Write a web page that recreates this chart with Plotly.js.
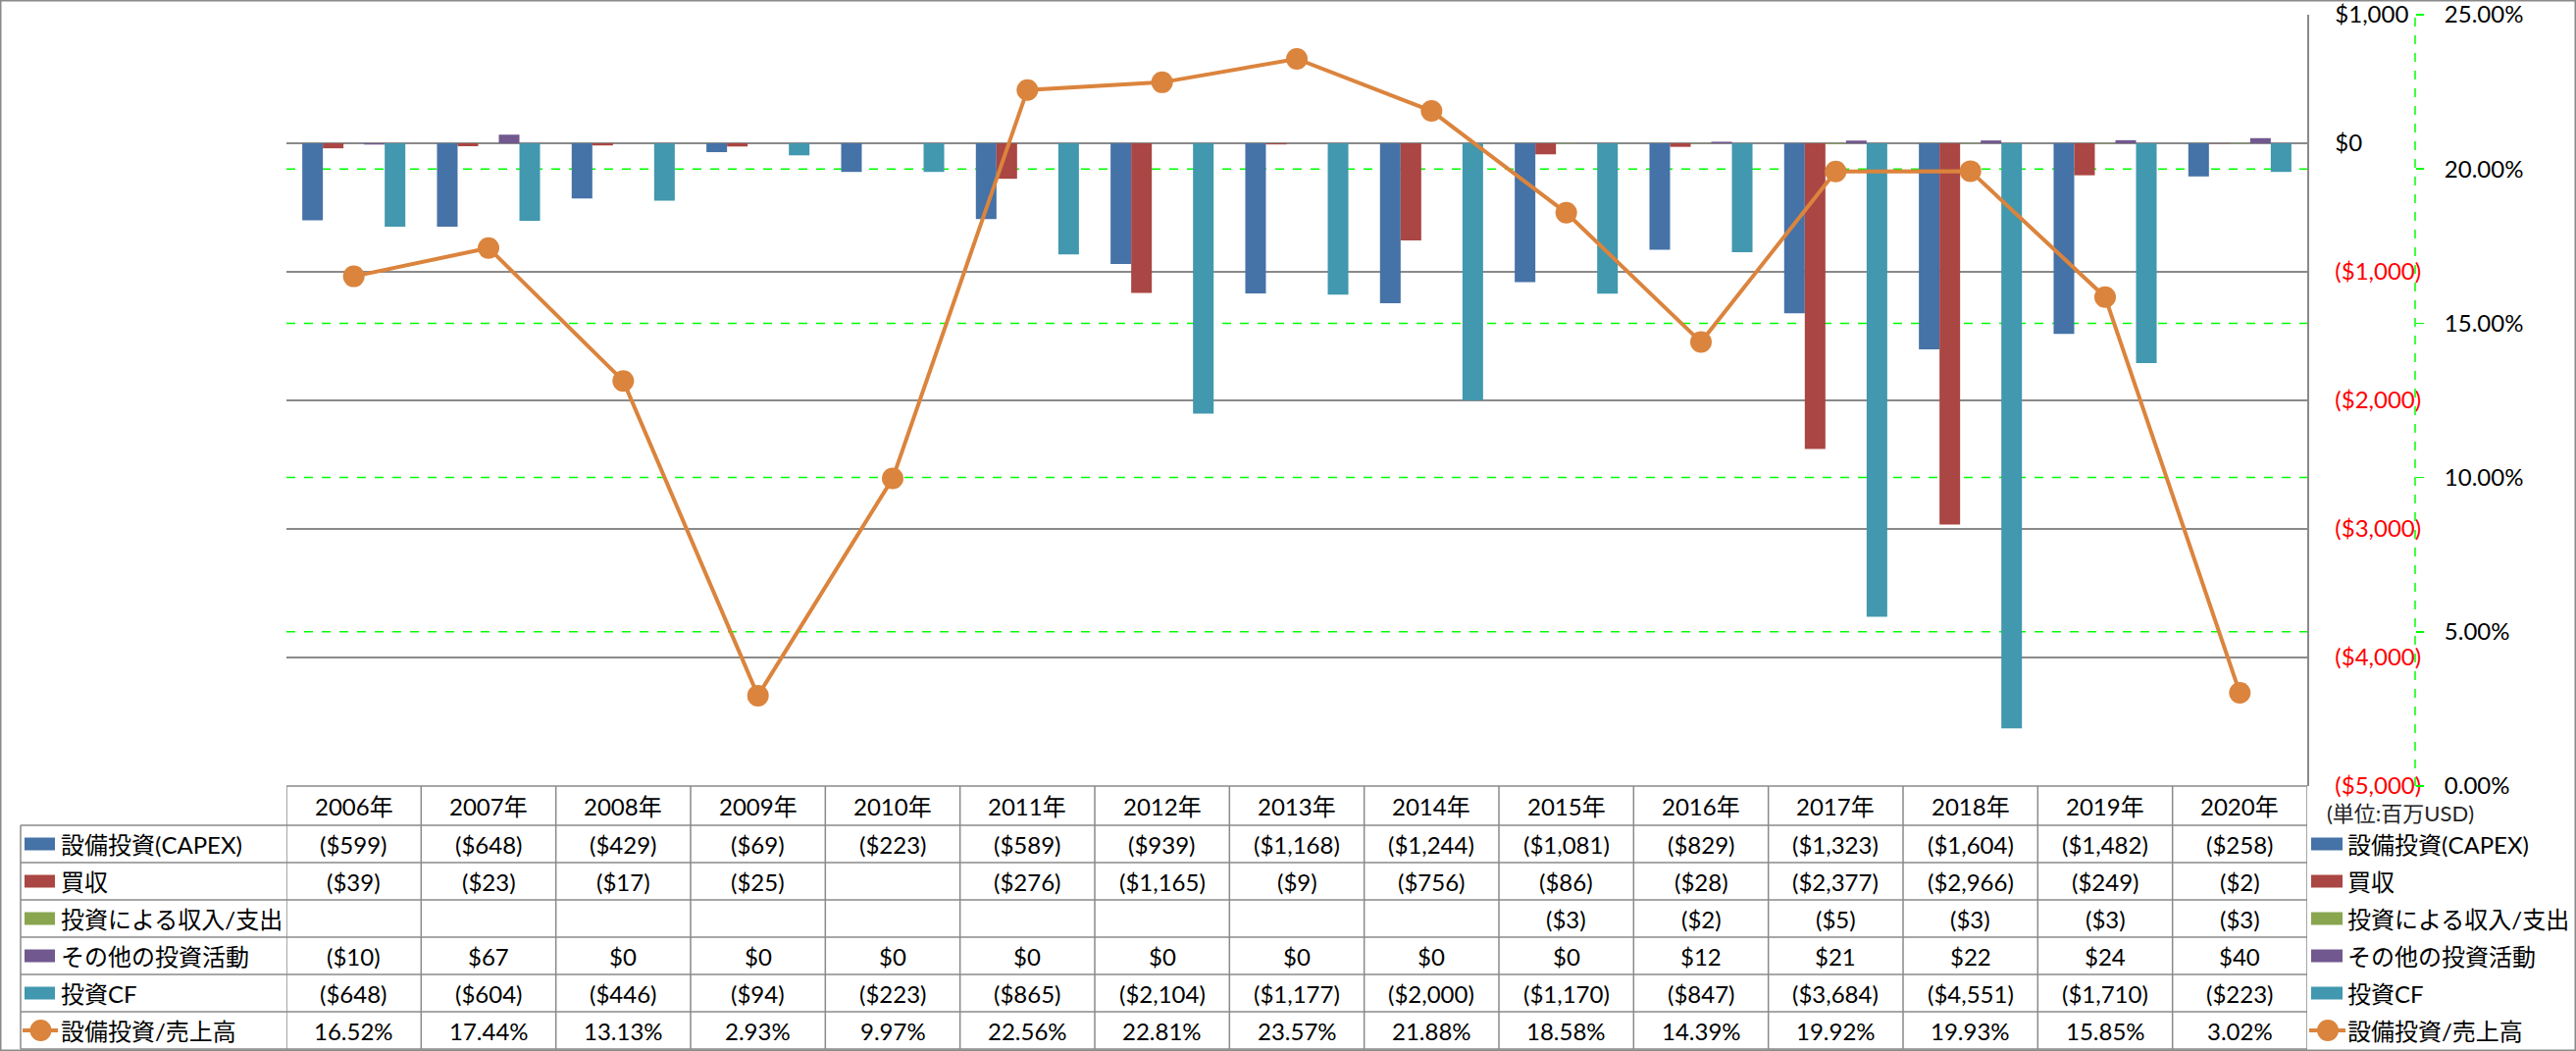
<!DOCTYPE html>
<html><head><meta charset="utf-8">
<script src="https://cdn.plot.ly/plotly-3.0.1.min.js"></script>
<style>html,body{margin:0;padding:0;background:#fff}#chart{width:2626px;height:1071px}</style>
</head><body><div id="chart"></div>
<script>
// ---- data ----
const years = ['2006年','2007年','2008年','2009年','2010年','2011年','2012年','2013年','2014年','2015年','2016年','2017年','2018年','2019年','2020年'];
const seriesNames = ['設備投資(CAPEX)','買収','投資による収入/支出','その他の投資活動','投資CF'];
const capex = [-599,-648,-429,-69,-223,-589,-939,-1168,-1244,-1081,-829,-1323,-1604,-1482,-258];
const acquisitions = [-39,-23,-17,-25,null,-276,-1165,-9,-756,-86,-28,-2377,-2966,-249,-2];
const investIncome = [null,null,null,null,null,null,null,null,null,-3,-2,-5,-3,-3,-3];
const otherInvest = [-10,67,0,0,0,0,0,0,0,0,12,21,22,24,40];
const investCF = [-648,-604,-446,-94,-223,-865,-2104,-1177,-2000,-1170,-847,-3684,-4551,-1710,-223];
const lineName = '設備投資/売上高';
const capexRatio = [0.1652,0.1744,0.1313,0.0293,0.0997,0.2256,0.2281,0.2357,0.2188,0.1858,0.1439,0.1992,0.1993,0.1585,0.0302];
const dollarTicks = [1000,0,-1000,-2000,-3000,-4000,-5000];
const pctTicks = [0,0.05,0.10,0.15,0.20,0.25];
const pctGrid = [0.05,0.10,0.15,0.20];
const unitLabel = '(単位:百万USD)';

// ---- styles ----
const W = 2626, H = 1071;
const FONT = 'Lato, "Noto Sans CJK JP", sans-serif';
const FS = 24;
const colors = ['#4572A7','#AA4643','#89A54E','#71588F','#4198AF'];
const lineColor = '#DB843D';
const gray = '#8a8a8a';
const px = p => p / W;
const py = p => 1 - p / H;

const plotL = 292, plotR = 2352, plotT = 15, plotB = 801;
const rowTops = [841,879,917,955,993,1031];
const rowH = 38;
const headerMid = 821;

function fmt(v){
  if (v === null || v === undefined) return '';
  const s = '$' + Math.abs(v).toLocaleString('en-US');
  return v < 0 ? '(' + s + ')' : s;
}
function fmtPct(v){ return (v*100).toFixed(2) + '%'; }

const seriesData = [capex, acquisitions, investIncome, otherInvest, investCF];

const traces = seriesData.map((d,i) => ({
  type:'bar', name: seriesNames[i], x: years, y: d,
  marker:{color: colors[i]}, xaxis:'x', yaxis:'y', hoverinfo:'none'
}));
traces.push({
  type:'scatter', mode:'lines+markers', name: lineName, x: years, y: capexRatio,
  xaxis:'x', yaxis:'y2', line:{color: lineColor, width:4},
  marker:{color: lineColor, size:22}, hoverinfo:'none'
});

const annotations = [];
const shapes = [];

years.forEach((yr,i) => {
  annotations.push({xref:'x', yref:'paper', x:i, y:py(headerMid), text:yr, showarrow:false,
    xanchor:'center', yanchor:'middle', font:{family:FONT, size:FS, color:'#000'}});
});
const rowData = seriesData.map(d => d.map(fmt)).concat([capexRatio.map(fmtPct)]);
const rowLabels = seriesNames.concat([lineName]);
rowData.forEach((row, r) => {
  const yc = rowTops[r] + rowH/2;
  row.forEach((t,i) => {
    if (t === '') return;
    annotations.push({xref:'x', yref:'paper', x:i, y:py(yc), text:t, showarrow:false,
      xanchor:'center', yanchor:'middle', font:{family:FONT, size:FS, color:'#000'}});
  });
  annotations.push({xref:'paper', yref:'paper', x:px(60), y:py(yc), text:rowLabels[r], showarrow:false,
    xanchor:'left', yanchor:'middle', font:{family:FONT, size:FS, color:'#000'}});
  annotations.push({xref:'paper', yref:'paper', x:px(2391), y:py(yc), text:rowLabels[r], showarrow:false,
    xanchor:'left', yanchor:'middle', font:{family:FONT, size:FS, color:'#000'}});
  [[25,56],[2356,2388]].forEach(([a,b]) => {
    if (r < 5) {
      shapes.push({type:'rect', xref:'paper', yref:'paper', x0:px(a), x1:px(b), y0:py(yc-6.5), y1:py(yc+6.5),
        fillcolor: colors[r], line:{width:0}});
    } else {
      shapes.push({type:'line', xref:'paper', yref:'paper', x0:px(a-2), x1:px(b+3), y0:py(yc), y1:py(yc),
        line:{color: lineColor, width:4}});
      const cx = (a+b)/2 + 1;
      shapes.push({type:'circle', xref:'paper', yref:'paper', x0:px(cx-11), x1:px(cx+11), y0:py(yc-11), y1:py(yc+11),
        fillcolor: lineColor, line:{width:0}});
    }
  });
});

rowTops.concat([rowTops[5]+rowH]).forEach(y => {
  shapes.push({type:'line', xref:'paper', yref:'paper', x0:px(21), x1:px(plotR), y0:py(y), y1:py(y), line:{color:gray, width:1.5}});
});
shapes.push({type:'line', xref:'paper', yref:'paper', x0:px(plotL), x1:px(plotR), y0:py(plotB), y1:py(plotB), line:{color:gray, width:1.5}});
shapes.push({type:'line', xref:'paper', yref:'paper', x0:px(21), x1:px(21), y0:py(841), y1:py(1069), line:{color:gray, width:1.5}});
for (let i = 0; i <= years.length; i++) {
  shapes.push({type:'line', xref:'x', yref:'paper', x0:i-0.5, x1:i-0.5, y0:py(plotB), y1:py(1069), line:{color:gray, width:1.5}});
}
pctGrid.forEach(v => {
  shapes.push({type:'line', xref:'x domain', yref:'y2', x0:0, x1:1, y0:v, y1:v, layer:'below',
    line:{color:'#00FF00', width:1.5, dash:'dash'}});
});
shapes.push({type:'line', xref:'paper', yref:'y2', x0:px(2462), x1:px(2462), y0:0, y1:0.25,
  line:{color:'#00FF00', width:1.5, dash:'dash'}});
shapes.push({type:'rect', xref:'paper', yref:'paper', x0:px(0.75), x1:px(W-0.75), y0:py(0.75), y1:py(H-0.75),
  line:{color:gray, width:1.5}, fillcolor:'rgba(0,0,0,0)'});

annotations.push({xref:'paper', yref:'paper', x:px(2370), y:py(828), text:unitLabel, showarrow:false,
  xanchor:'left', yanchor:'middle', font:{family:FONT, size:22, color:'#222'}});

const layout = {
  width: W, height: H,
  margin:{l:0, r:0, t:0, b:0, pad:0},
  paper_bgcolor:'#fff', plot_bgcolor:'#fff',
  showlegend:false,
  barmode:'group', bargap:0.235, bargroupgap:0,
  font:{family:FONT, size:FS, color:'#000'},
  xaxis:{domain:[px(plotL), px(plotR)], type:'category', range:[-0.5, years.length-0.5],
    showticklabels:false, ticks:'', showgrid:false, zeroline:false, showline:false, fixedrange:true},
  yaxis:{domain:[py(plotB), py(plotT)], range:[-5000,1000], side:'right',
    tickmode:'array', tickvals: dollarTicks,
    ticktext: dollarTicks.map(v => v < 0 ? '<span style="color:#FF0000">' + fmt(v) + '</span>' : fmt(v)),
    showgrid:true, gridcolor:gray, gridwidth:1.5, zeroline:false,
    showline:true, linecolor:gray, linewidth:1.5, ticks:'', ticklabelstandoff:22, ticklabeloverflow:'allow',
    tickfont:{family:FONT, size:FS, color:'#000'}, automargin:false, fixedrange:true},
  yaxis2:{overlaying:'y', side:'right', anchor:'free', position:px(2462), range:[0,0.25],
    tickmode:'array', tickvals:pctTicks, ticktext:pctTicks.map(fmtPct),
    showgrid:false, zeroline:false, showline:false,
    ticks:'outside', ticklen:8, tickcolor:'#00FF00', tickwidth:1.5, ticklabelstandoff:16, ticklabeloverflow:'allow',
    tickfont:{family:FONT, size:FS, color:'#000'}, automargin:false, fixedrange:true},
  annotations: annotations,
  shapes: shapes
};

Plotly.newPlot('chart', traces, layout, {staticPlot:true, displayModeBar:false});
</script></body></html>
